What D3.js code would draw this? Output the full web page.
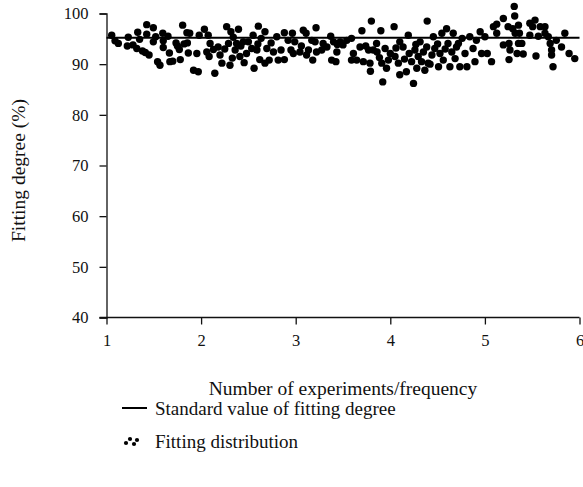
<!DOCTYPE html>
<html>
<head>
<meta charset="utf-8">
<script src="https://cdn.jsdelivr.net/npm/d3@7"></script>
<style>
  body { margin: 0; background: #fff; }
  svg text { font-family: "Liberation Serif", "Times New Roman", Tinos, "DejaVu Serif", serif; fill: #111; }
</style>
</head>
<body>
<svg id="chart" width="583" height="487"></svg>
<script>
const xTicks = [1, 2, 3, 4, 5, 6];
const yTicks = [40, 50, 60, 70, 80, 90, 100];
const standardValue = 95.2;
const serif = '"Liberation Serif", "Times New Roman", Tinos, "DejaVu Serif", serif';

// [experiment, fitting degree %]
const fittingPoints = [
  [1.055,95.7],[1.09,94.6],[1.125,94.1],[1.23,95.3],[1.22,93.6],[1.28,93.8],[1.32,93.1],[1.33,96.3],
  [1.35,94.9],[1.38,92.6],[1.41,92.3],[1.425,97.8],[1.425,95.9],[1.45,91.8],[1.495,97.2],[1.495,94.4],
  [1.52,95.4],[1.54,90.5],[1.565,89.8],[1.595,96.1],[1.60,94.6],[1.65,95.5],[1.665,92.2],[1.67,90.5],
  [1.70,90.6],[1.735,94.2],[1.78,90.9],[1.77,92.9],[1.805,97.7],[1.82,94.0],[1.85,96.2],[1.865,92.2],
  [1.88,96.1],[1.855,94.2],[1.92,88.8],[1.97,88.5],[1.955,92.1],[1.98,95.7],[1.60,93.3],[1.75,93.6],
  [2.035,96.9],[2.075,95.7],[2.06,92.4],[2.095,94.1],[2.085,91.5],[2.13,92.9],[2.145,88.2],[2.18,93.4],
  [2.20,91.8],[2.22,90.2],[2.27,97.4],[2.29,94.1],[2.305,89.8],[2.315,96.4],[2.34,95.3],[2.36,92.8],
  [2.375,94.1],[2.395,96.9],[2.41,91.5],[2.445,94.4],[2.455,90.3],[2.48,92.1],[2.50,94.4],[2.535,93.1],
  [2.55,95.7],[2.56,89.2],[2.59,92.8],[2.605,97.5],[2.62,90.9],[2.635,95.1],[2.675,96.4],[2.675,90.2],
  [2.695,93.1],[2.72,90.8],[2.74,94.2],[2.765,92.4],[2.80,95.4],[2.815,90.8],[2.845,92.8],[2.88,96.2],
  [2.88,90.9],[2.92,94.7],[2.95,92.8],[2.965,96.1],[2.25,93.0],[2.42,93.6],[2.33,91.2],[2.60,94.0],
  [2.975,92.1],[2.99,94.4],[3.045,92.4],[3.08,96.7],[3.11,96.1],[3.135,92.8],[3.115,91.8],[3.17,94.7],
  [3.18,90.8],[3.215,97.2],[3.205,94.4],[3.22,92.4],[3.275,92.8],[3.29,94.1],[3.33,93.4],[3.37,95.5],
  [3.38,90.8],[3.40,94.4],[3.435,92.4],[3.425,90.5],[3.47,94.4],[3.50,93.8],[3.54,94.7],[3.59,95.1],
  [3.61,92.1],[3.59,90.8],[3.645,90.8],[3.68,93.4],[3.70,96.6],[3.715,90.5],[3.77,92.8],[3.785,90.2],
  [3.80,98.5],[3.79,88.6],[3.82,92.8],[3.855,94.1],[3.885,91.3],[3.90,96.6],[3.91,90.2],[3.92,86.5],
  [3.945,93.1],[3.96,89.2],[3.74,93.6],[3.86,92.4],[3.06,93.6],[3.44,93.9],
  [3.98,90.8],[4.00,92.1],[4.04,97.4],[4.05,91.5],[4.085,90.2],[4.10,94.4],[4.10,87.9],[4.135,93.4],
  [4.17,88.5],[4.19,95.7],[4.20,92.1],[4.225,90.5],[4.245,86.2],[4.26,92.8],[4.28,89.2],[4.295,91.5],
  [4.315,94.4],[4.33,90.5],[4.35,92.4],[4.365,88.8],[4.385,93.4],[4.39,98.5],[4.40,90.2],[4.44,91.8],
  [4.455,95.4],[4.47,93.1],[4.51,89.5],[4.525,92.1],[4.545,96.1],[4.56,90.8],[4.595,97.0],[4.61,94.1],
  [4.63,89.5],[4.65,92.4],[4.665,96.1],[4.685,91.1],[4.72,94.1],[4.735,89.5],[4.76,95.1],[4.79,92.1],
  [4.81,89.5],[4.84,95.4],[4.875,93.1],[4.895,90.5],[4.91,94.7],[4.95,96.4],[4.965,92.1],
  [4.06,93.2],[4.15,91.0],[4.27,93.9],[4.42,90.0],[4.50,94.0],[4.58,93.0],[4.70,93.4],
  [5.00,95.4],[5.025,92.1],[5.07,90.5],[5.09,97.4],[5.125,97.9],[5.125,96.1],[5.195,99.0],[5.195,93.8],
  [5.245,97.4],[5.255,94.1],[5.265,92.8],[5.255,90.9],[5.295,97.0],[5.31,101.4],[5.315,99.5],[5.32,96.1],
  [5.34,92.1],[5.355,97.7],[5.355,94.1],[5.365,96.1],[5.39,94.1],[5.405,92.0],[5.475,98.1],[5.475,95.7],
  [5.505,97.4],[5.53,98.7],[5.54,91.6],[5.565,95.5],[5.585,97.4],[5.635,97.4],[5.635,96.1],[5.67,95.4],
  [5.69,94.1],[5.705,92.8],[5.705,91.8],[5.72,89.5],[5.755,94.7],[5.81,93.4],[5.845,96.1],[5.89,92.1],
  [5.95,91.1]
];

const svg = d3.select('#chart');
const margin = { left: 106.5, right: 3.5, top: 13.5, bottom: 169.5 };
const width = 583, height = 487;

const xScale = d3.scaleLinear().domain([1, 6]).range([margin.left, width - margin.right]);
const yScale = d3.scaleLinear().domain([40, 100]).range([height - margin.bottom, margin.top]);

// axes
const xAxis = svg.append('g')
  .attr('transform', `translate(0,${yScale(40)})`)
  .call(d3.axisBottom(xScale).tickValues(xTicks).tickSize(7).tickPadding(10).tickFormat(d3.format('d')));
const yAxis = svg.append('g')
  .attr('transform', `translate(${xScale(1)},0)`)
  .call(d3.axisLeft(yScale).tickValues(yTicks).tickSize(7).tickPadding(11));

[xAxis, yAxis].forEach(g => {
  g.attr('font-family', null);
  g.select('.domain').attr('stroke', '#111').attr('stroke-width', 1.3);
  g.selectAll('.tick line').attr('stroke', '#111').attr('stroke-width', 1.3);
  g.selectAll('.tick text').style('font-size', '16.5px').style('font-family', serif).attr('fill', '#111');
});
// extend x axis a bit to the left, like the original
xAxis.select('.domain').attr('d', `M${xScale(1) - 7},0H${xScale(6)}`);

// points
svg.append('g')
  .selectAll('circle')
  .data(fittingPoints)
  .join('circle')
  .attr('cx', d => xScale(d[0]))
  .attr('cy', d => yScale(d[1]))
  .attr('r', 3.7)
  .attr('fill', '#000');

// standard line
svg.append('line')
  .attr('x1', xScale(1)).attr('x2', xScale(6))
  .attr('y1', yScale(standardValue)).attr('y2', yScale(standardValue))
  .attr('stroke', '#000').attr('stroke-width', 2);

// axis titles
svg.append('text')
  .attr('x', (xScale(1) + xScale(6)) / 2)
  .attr('y', 395)
  .attr('text-anchor', 'middle')
  .style('font-size', '19.5px')
  .style('font-family', serif)
  .text('Number of experiments/frequency');

svg.append('text')
  .attr('transform', `translate(25,${(yScale(40) + yScale(100)) / 2 + 5}) rotate(-90)`)
  .attr('text-anchor', 'middle')
  .style('font-size', '19.5px')
  .style('font-family', serif)
  .text('Fitting degree (%)');

// legend
const legend = svg.append('g');
legend.append('line')
  .attr('x1', 122).attr('x2', 147).attr('y1', 408).attr('y2', 408)
  .attr('stroke', '#000').attr('stroke-width', 2);
legend.append('text').attr('x', 155).attr('y', 414.5).style('font-size', '19px').style('font-family', serif)
  .text('Standard value of fitting degree');

const iconDots = [[126, 443], [130, 439], [134, 444], [137, 440]];
legend.selectAll('circle')
  .data(iconDots)
  .join('circle')
  .attr('cx', d => d[0]).attr('cy', d => d[1]).attr('r', 2.1).attr('fill', '#000');
legend.append('text').attr('x', 155).attr('y', 447.5).style('font-size', '19px').style('font-family', serif)
  .text('Fitting distribution');
</script>
</body>
</html>
